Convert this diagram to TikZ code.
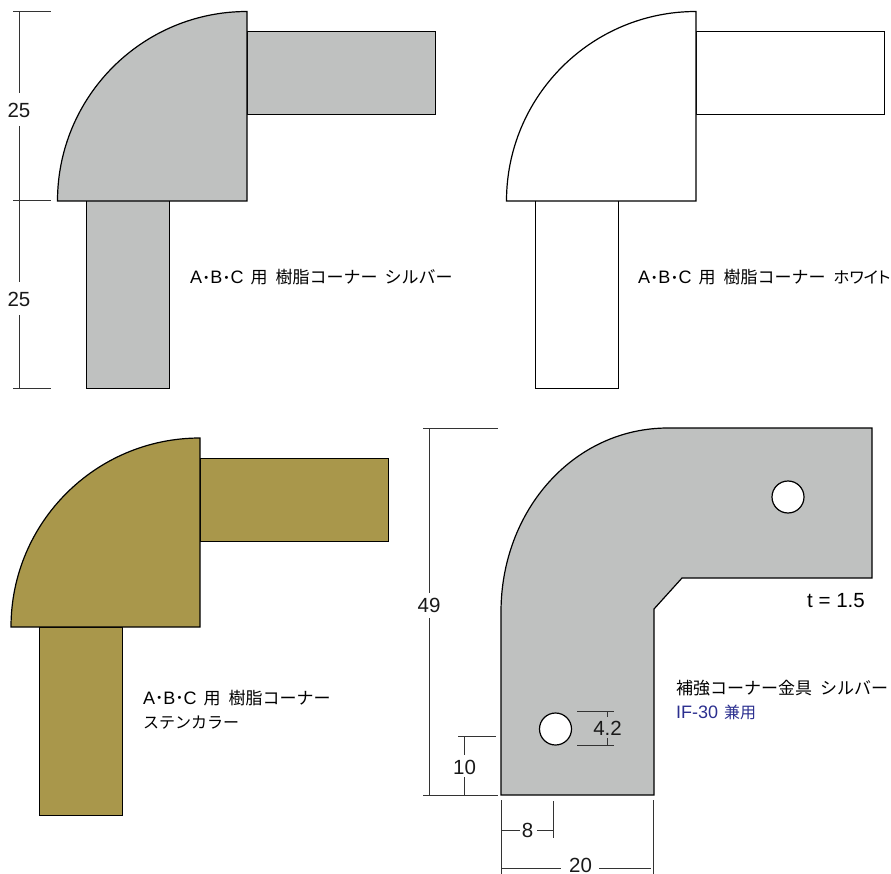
\documentclass[tikz,border=0pt]{standalone}
\usepackage{fontspec}
\setmainfont{Liberation Sans}
\newfontfamily\cjk{Noto Sans CJK JP}
\newfontfamily\cjkp[RawFeature=+palt]{Noto Sans CJK JP}
\definecolor{silverc}{HTML}{BFC1C0}
\definecolor{brassc}{HTML}{A9974B}
\definecolor{bluec}{HTML}{2B2F8F}
\definecolor{dimc}{HTML}{333333}
\newcommand{\kj}[1]{{\cjk\fontsize{17}{20}\selectfont #1}}
\newcommand{\kjp}[1]{{\cjkp\fontsize{16.2}{20}\selectfont #1}}
\newcommand{\mdot}{\kern2.2pt\raisebox{2.2pt}{\fontsize{11}{12}\selectfont •}\kern2.2pt}
\newcommand{\abc}{A\mdot B\mdot C}
\tikzset{
  part/.style={draw=black,line width=1.2pt,line join=miter},
  dimline/.style={draw=dimc,line width=0.75pt},
  dimtext/.style={font=\fontsize{20.5}{22}\selectfont,inner sep=0pt,text=black!90},
  caption/.style={font=\fontsize{18}{20}\selectfont,inner sep=0pt,anchor=base west,text=black},
  captionsmall/.style={font=\fontsize{18}{20}\selectfont,inner sep=0pt,anchor=base west,text=bluec},
}
\begin{document}
\begin{tikzpicture}[x=1pt,y=-1pt]
\useasboundingbox (0,0) rectangle (891,874);
% silver resin corner
\path[part,fill=silverc] (247,31.3) rectangle (435.7,114.7);
\path[part,fill=silverc] (86.3,200.5) rectangle (169.6,388.8);
\path[part,fill=silverc] (57.5,201) arc[start angle=180,end angle=270,radius=189.5] -- (247,201) -- cycle;
% white resin corner
\path[part,fill=white] (696,31.3) rectangle (884.7,114.7);
\path[part,fill=white] (535.3,200.5) rectangle (618.6,388.8);
\path[part,fill=white] (506.5,201) arc[start angle=180,end angle=270,radius=189.5] -- (696,201) -- cycle;
% stainless resin corner
\path[part,fill=brassc] (200,458.3) rectangle (388.7,541.7);
\path[part,fill=brassc] (39.7,627) rectangle (122.8,815.8);
\path[part,fill=brassc] (11,627) arc[start angle=180,end angle=270,radius=189] -- (200,627) -- cycle;
% metal bracket
\path[part,fill=silverc] (501,795) -- (501,612) .. controls (501,510) and (574,428) .. (668,428)
  -- (872,428) -- (872,578) -- (682,578) -- (654,609) -- (654,795) -- cycle;
\path[part,fill=white] (788,497) circle[radius=16];
\path[part,fill=white] (555.5,729) circle[radius=16];
% dims 25 / 25
\draw[dimline] (13,11) -- (51,11) (13,200) -- (51,200) (13,388.5) -- (51,388.5);
\draw[dimline] (19.5,11) -- (19.5,93) (19.5,126) -- (19.5,282) (19.5,315) -- (19.5,388.5);
\node[dimtext] (d25a) at (19,110) {25};
\node[dimtext] (d25b) at (19,299) {25};
% dim 49
\draw[dimline] (423,428) -- (498,428) (423,795) -- (498,795);
\draw[dimline] (429.5,428) -- (429.5,593) (429.5,618) -- (429.5,795);
\node[dimtext] (d49) at (429,605) {49};
% dim 10
\draw[dimline] (458,736) -- (496,736);
\draw[dimline] (464.5,736) -- (464.5,755) (464.5,777) -- (464.5,795);
\node[dimtext] (d10) at (464.5,767) {10};
% dim 4.2
\draw[dimline] (577,711.5) -- (614,711.5) (577,745) -- (614,745);
\draw[dimline] (607.5,711.5) -- (607.5,717) (607.5,738) -- (607.5,745);
\node[dimtext] (d42) at (607.5,728) {4.2};
% dim 8
\draw[dimline] (501.5,800) -- (501.5,874) (553,801) -- (553,838) (653.5,800) -- (653.5,874);
\draw[dimline] (501.5,830) -- (520,830) (537,830) -- (553,830);
\node[dimtext] (d8) at (527.5,830) {8};
% dim 20
\draw[dimline] (501.5,868) -- (561,868) (599,868) -- (651,868);
\node[dimtext] (d20) at (580.5,865.5) {20};
% captions
\node[caption] (c1) at (190,284) {\abc\hspace{7pt}\kj{用}\hspace{8pt}\kj{樹脂コーナー}\hspace{7pt}\kj{シルバー}};
\node[caption] (c2) at (638,284) {\abc\hspace{7pt}\kj{用}\hspace{8pt}\kj{樹脂コーナー}\hspace{8pt}\kjp{ホワイト}};
\node[caption] (c3) at (143,704) {\abc\hspace{7pt}\kj{用}\hspace{8pt}\kj{樹脂コーナー}};
\node[caption] (c3b) at (143,728) {{\cjk\fontsize{16}{20}\selectfont ステンカラー}};
\node[caption] (c4) at (676,694) {\kj{補強コーナー金具}\hspace{8pt}\kj{シルバー}};
\node[captionsmall] (c5) at (676,718) {\fontsize{18}{20}\selectfont IF-30\hspace{6pt}{\cjk\fontsize{16}{18}\selectfont 兼用}};
\node[caption] (c6) at (807,607) {\fontsize{20.5}{22}\selectfont t = 1.5};
\end{tikzpicture}
\end{document}
